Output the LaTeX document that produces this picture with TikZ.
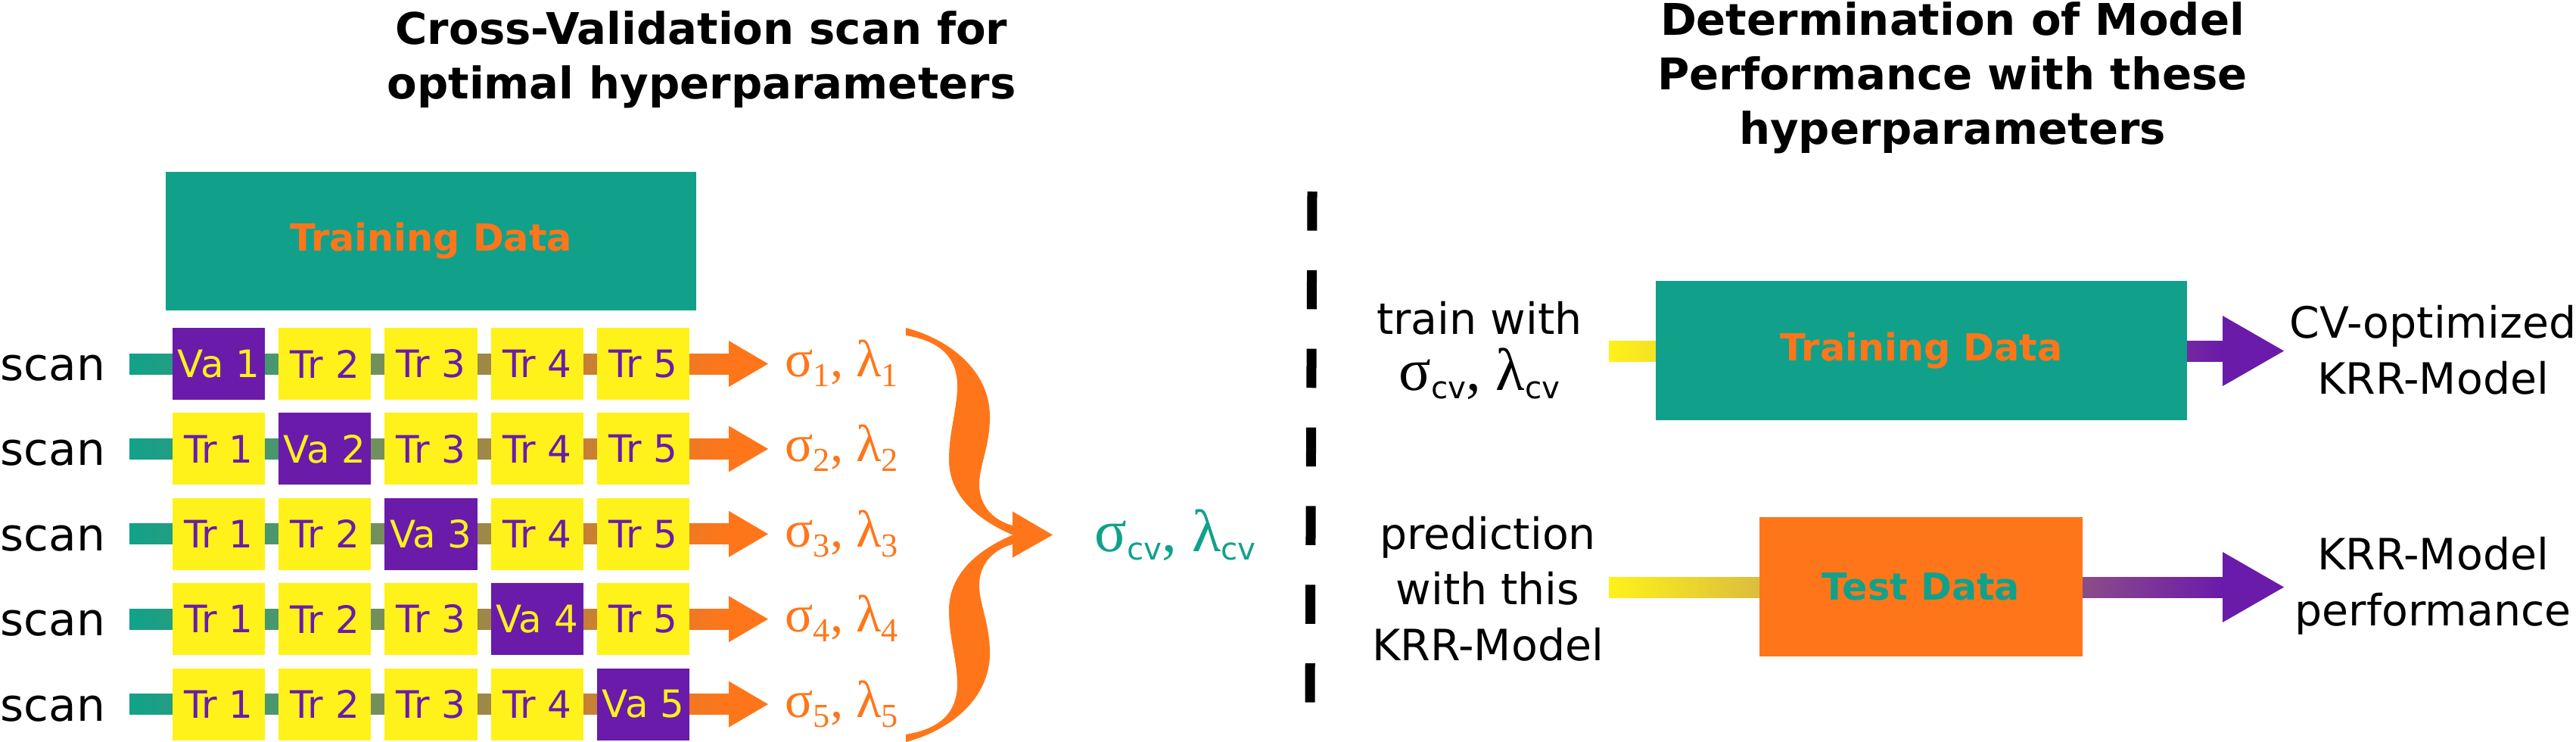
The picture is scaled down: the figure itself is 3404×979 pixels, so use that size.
\documentclass[tikz,border=0pt]{standalone}
\usepackage{fontspec}
\setmainfont{DejaVu Sans}
\newfontfamily\grk{Liberation Serif}
\usetikzlibrary{calc}
\definecolor{cvteal}{RGB}{17,161,138}
\definecolor{cvorange}{RGB}{255,118,26}
\definecolor{cvyellow}{RGB}{255,242,26}
\definecolor{cvpurple}{RGB}{106,27,170}
\newcommand\dsub[1]{\raisebox{-0.13cm}{\fontsize{12.6}{12}\selectfont #1}}
\newcommand\cvsub{\raisebox{-0.11cm}{\fontsize{11.5}{12}\selectfont\rmfamily cv}}
\begin{document}
\begin{tikzpicture}[x=0.01cm,y=-0.01cm,
  title/.style={anchor=base, align=center, font=\bfseries\fontsize{16.4}{20.4}\selectfont},
  fold/.style={minimum width=1.22cm, minimum height=0.95cm, inner sep=0pt, font=\fontsize{14.2}{15}\selectfont},
  trbox/.style={fold, fill=cvyellow, text=cvpurple},
  vabox/.style={fold, fill=cvpurple, text=cvyellow},
  databox/.style={minimum height=1.83cm, inner sep=0pt, font=\bfseries\fontsize{14}{16}\selectfont},
  scanlbl/.style={anchor=base west, inner sep=0pt, font=\fontsize{17}{20}\selectfont},
  plbl/.style={anchor=base west, inner sep=0pt, text=cvorange, font=\grk\fontsize{19.6}{20}\selectfont},
  cvlbl/.style={anchor=base west, inner sep=0pt, font=\grk\fontsize{22.5}{24}\selectfont},
  txt/.style={anchor=base, align=center, inner sep=0pt, font=\fontsize{16.2}{20.8}\selectfont}
]
\useasboundingbox (0,0) rectangle (3404,979);

% titles (base anchor = baseline of last line)
\node[title] (tleft) at (927,130) {Cross-Validation scan for\\optimal hyperparameters};
\node[title] (tright) at (2580,190) {Determination of Model\\Performance with these\\hyperparameters};

% left training data
\node[databox, minimum width=7.01cm, fill=cvteal, text=cvorange] (trainL) at (569.5,318.5) {Training Data};

% scan rows
\foreach \i in {1,...,5}{
  \pgfmathsetmacro\yy{480.5+112.4*(\i-1)}
  \coordinate (s\i) at (171,\yy);
  \coordinate (e\i) at (963,\yy);
  \shade[left color=cvteal,right color=cvorange] ($(s\i)+(0,-13.5)$) rectangle ($(e\i)+(0,13.5)$);
  \fill[cvorange] ($(e\i)+(0,-30.5)$) -- ($(e\i)+(52,0)$) -- ($(e\i)+(0,30.5)$) -- cycle;
  \node[scanlbl] (scan\i) at ($(s\i)+(-171,22)$) {scan};
  \foreach \j in {1,...,5}{
    \pgfmathsetmacro\xx{289+140.25*(\j-1)}
    \ifnum\i=\j
      \node[vabox] (f\i\j) at (\xx,\yy) {Va \j};
    \else
      \node[trbox] (f\i\j) at (\xx,\yy) {Tr \j};
    \fi
  }
  \node[plbl] (p\i) at ($(e\i)+(74,17)$) {σ\dsub{\i}, λ\dsub{\i}};
}

% brace
\coordinate (btip) at (1338,706.5);
\fill[cvorange] (1197,433) .. controls (1255,448) and (1308,490) .. (1308,550)
  .. controls (1308,590) and (1294,615) .. (1294,640)
  .. controls (1294,670) and (1315,688) .. (1338,694)
  -- (btip)
  .. controls (1300,690) and (1254,660) .. (1254,607)
  .. controls (1254,570) and (1265,540) .. (1265,510)
  .. controls (1265,470) and (1240,450) .. (1197,443) -- cycle;
\fill[cvorange] (1197,980) .. controls (1255,965) and (1308,923) .. (1308,863)
  .. controls (1308,823) and (1294,798) .. (1294,773)
  .. controls (1294,743) and (1315,725) .. (1338,719)
  -- (btip)
  .. controls (1300,723) and (1254,753) .. (1254,806)
  .. controls (1254,843) and (1265,873) .. (1265,903)
  .. controls (1265,943) and (1240,963) .. (1197,970) -- cycle;
\fill[cvorange] ($(btip)+(0,-31)$) -- ($(btip)+(53,0)$) -- ($(btip)+(0,30)$) -- cycle;
\node[cvlbl, text=cvteal] (cvL) at (1446,728) {σ\cvsub, λ\cvsub};

% dashed separator
\coordinate (dtop) at (1734,253);
\coordinate (dbot) at (1731,928);
\draw[line width=0.13cm, dash pattern=on 0.515cm off 0.523cm] (dtop) -- (dbot);

% right side bars
\coordinate (in1) at (2126,463.5);
\coordinate (out1) at (2937,463.5);
\coordinate (in2) at (2126,775.5);
\coordinate (out2) at (2937,775.5);
\shade[left color=cvyellow,right color=cvpurple] ($(in1)+(0,-13.5)$) rectangle ($(out1)+(0,13.5)$);
\shade[left color=cvyellow,right color=cvpurple] ($(in2)+(0,-13.5)$) rectangle ($(out2)+(0,13.5)$);
\fill[cvpurple] ($(out1)+(0,-46.5)$) -- ($(out1)+(81,0)$) -- ($(out1)+(0,46.5)$) -- cycle;
\fill[cvpurple] ($(out2)+(0,-46.5)$) -- ($(out2)+(81,0)$) -- ($(out2)+(0,46.5)$) -- cycle;

\node[databox, minimum width=7.02cm, fill=cvteal, text=cvorange] (trainR) at (2539,463) {Training Data};
\node[databox, minimum width=4.27cm, fill=cvorange, text=cvteal] (test) at (2538.5,775) {Test Data};

% right texts (base anchor = baseline of last line)
\node[txt] (trwith) at (1955,515) {train with\\{\grk\fontsize{22.5}{20.8}\selectfont σ\cvsub, λ\cvsub}};
\node[txt] (pred) at (1966,872) {prediction\\with this\\KRR-Model};
\node[txt] (cvopt) at (3215,520) {CV-optimized\\KRR-Model};
\node[txt] (perf) at (3215,826) {KRR-Model\\performance};
\end{tikzpicture}
\end{document}
